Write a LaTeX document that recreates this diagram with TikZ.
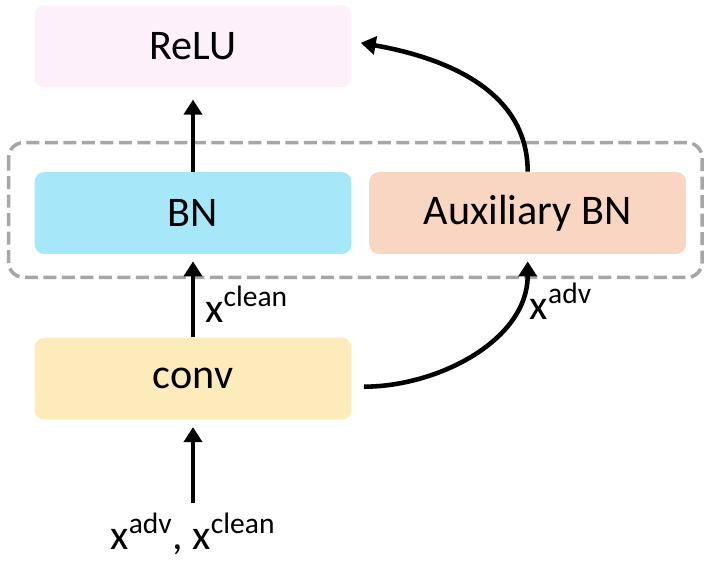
\documentclass[tikz,border=0pt]{standalone}
\usepackage{fontspec}
\setmainfont{Carlito}
\usetikzlibrary{arrows.meta,positioning,calc}
\definecolor{relucol}{HTML}{FDF0FB}
\definecolor{bncol}{HTML}{A6E8FA}
\definecolor{auxcol}{HTML}{F8D6C2}
\definecolor{convcol}{HTML}{FDEBBB}
\definecolor{groupgray}{HTML}{A6A6A6}
\tikzset{
block/.style={rectangle, text centered, rounded corners=0.2cm, minimum width=6.34cm, minimum height=1.64cm, font=\fontsize{24}{28}\selectfont},
line/.style={draw, line width=2.6pt, -{Triangle[length=0.3cm,width=0.36cm]}, shorten >=4pt},
group/.style={draw=groupgray, dash pattern=on 0.26cm off 0.11cm, line width=2pt, rounded corners=0.3cm},
lbl/.style={font=\fontsize{24}{28}\selectfont, inner sep=0pt}
}

\begin{document}
\begin{tikzpicture}
    \useasboundingbox (0,0) rectangle (14.1,-11.26);
    % Place nodes
    \node [block, fill=bncol] (bn) at (3.86,-4.26) {BN};
    \node [block, fill=auxcol, right=0.34cm of bn] (auxbn) {Auxiliary BN};
    \node [block, fill=relucol, above=1.68cm of bn] (relu) {ReLU};
    \node [block, fill=convcol, below=1.66cm of bn] (conv) {conv};
    \node [lbl, below=1.85cm of conv] (input) {x\textsuperscript{adv}, x\textsuperscript{clean}};
    % Group of the two BNs
    \draw [group] ($(bn.north west)+(-0.51,0.58)$) rectangle ($(auxbn.south east)+(0.31,-0.46)$);
    % Draw edges
    \path [line, shorten <=0.2cm] (input) -- (conv);
    \path [line] (conv) -- node [lbl, right=0.2cm, pos=0.4] {x\textsuperscript{clean}} (bn);
    \path [line, shorten >=0.24cm] (bn) -- (relu);
    \path [line, shorten <=0.24cm] ([yshift=-0.16cm]conv.east) to[out=0, in=-90]
        node [lbl, pos=0.8, right=0.2cm] {x\textsuperscript{adv}} (auxbn.south);
    \path [line, shorten >=0.18cm] (auxbn.north) to[out=90, in=-10] ([yshift=0.1cm]relu.east);
\end{tikzpicture}
\end{document}
